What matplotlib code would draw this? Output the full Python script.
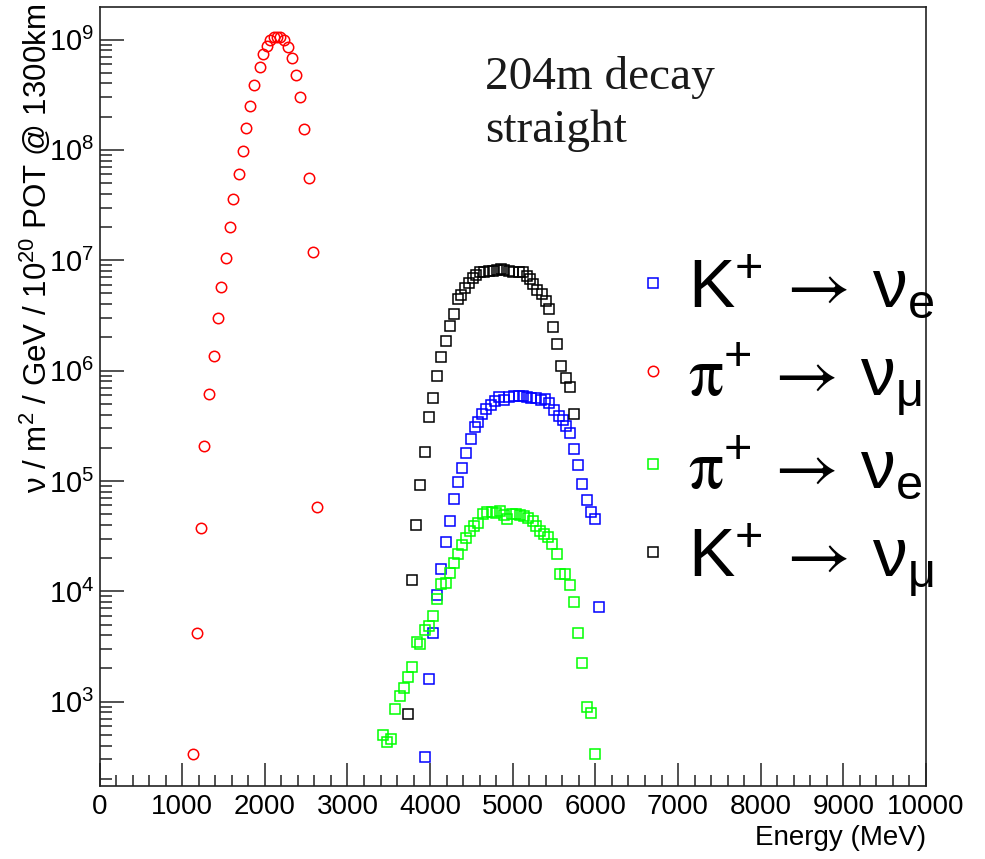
import matplotlib
matplotlib.use('Agg')
import matplotlib.pyplot as plt
from matplotlib.ticker import MultipleLocator, FixedLocator, LogFormatterSciNotation, NullFormatter

plt.rcParams['font.family'] = ['Liberation Sans', 'DejaVu Sans']
plt.rcParams['mathtext.fontset'] = 'custom'
plt.rcParams['mathtext.rm'] = 'Liberation Sans'
plt.rcParams['mathtext.it'] = 'Liberation Sans:italic'
plt.rcParams['mathtext.bf'] = 'Liberation Sans:bold'
plt.rcParams['mathtext.sf'] = 'STIXGeneral'
plt.rcParams['mathtext.cal'] = 'Liberation Serif'

# ---------------- data (energy in MeV, flux) ----------------
pi_numu_E = [1133, 1178, 1227, 1270, 1319, 1384, 1428, 1476, 1525, 1573, 1618, 1682,
             1731, 1776, 1824, 1869, 1937, 1982, 2027, 2067, 2107, 2148, 2188, 2236,
             2281, 2330, 2376, 2422, 2470, 2536, 2584, 2628]
pi_numu_flux = [337, 4190, 3.74e4, 2.06e5, 6.13e5, 1.35e6, 2.97e6, 5.69e6, 1.04e7, 2.01e7,
                3.59e7, 6.04e7, 9.77e7, 1.59e8, 2.51e8, 3.85e8, 5.67e8, 7.35e8, 8.79e8,
                9.96e8, 1.05e9, 1.06e9, 1.05e9, 1.0e9, 8.6e8, 6.84e8, 4.77e8, 3.03e8,
                1.56e8, 5.52e7, 1.18e7, 5.77e4]

k_numu_E = [3731, 3779, 3828, 3876, 3937, 3990, 4034, 4082, 4131, 4196, 4240, 4285, 4333,
            4378, 4418, 4467, 4515, 4552, 4604, 4652, 4713, 4761, 4815, 4855, 4895, 4955,
            5008, 5076, 5130, 5170, 5210, 5251, 5299, 5352, 5400, 5440, 5488, 5533, 5582,
            5646, 5694, 5736]
k_numu_flux = [767, 1.26e4, 3.98e4, 9.27e4, 1.83e5, 3.79e5, 5.63e5, 8.87e5, 1.32e6, 1.84e6,
               2.51e6, 3.25e6, 4.48e6, 4.84e6, 5.64e6, 6.18e6, 6.86e6, 7.35e6, 7.77e6, 7.77e6,
               7.98e6, 8.03e6, 8.20e6, 8.27e6, 8.20e6, 7.98e6, 7.77e6, 7.87e6, 7.77e6, 7.24e6,
               6.76e6, 6.05e6, 5.37e6, 4.91e6, 4.30e6, 3.59e6, 2.50e6, 1.73e6, 1.10e6, 8.61e5,
               7.16e5, 4.02e5]

k_nue_E = [3937, 3985, 4034, 4082, 4131, 4196, 4240, 4288, 4333, 4382, 4430, 4491, 4543,
           4584, 4633, 4681, 4733, 4788, 4839, 4899, 4955, 5018, 5081, 5121, 5170, 5218,
           5279, 5339, 5394, 5440, 5501, 5564, 5610, 5648, 5693, 5736, 5784, 5834, 5897,
           5945, 5990, 6039]
k_nue_flux = [317, 1590, 4190, 9250, 1.60e4, 2.78e4, 4.36e4, 6.90e4, 9.84e4, 1.30e5,
              1.78e5, 2.39e5, 3.08e5, 3.44e5, 4.05e5, 4.51e5, 4.92e5, 5.32e5, 5.82e5, 5.37e5,
              5.75e5, 5.87e5, 5.94e5, 5.87e5, 5.75e5, 5.70e5, 5.61e5, 5.37e5, 5.52e5, 5.10e5,
              4.44e5, 3.87e5, 3.53e5, 3.18e5, 2.72e5, 1.95e5, 1.39e5, 9.31e4, 6.71e4, 5.26e4,
              4.50e4, 7240]

pi_nue_E = [3433, 3481, 3521, 3573, 3634, 3682, 3736, 3784, 3836, 3876, 3937, 3985, 4034,
            4082, 4131, 4196, 4240, 4288, 4337, 4382, 4430, 4485, 4531, 4584, 4636, 4691,
            4745, 4794, 4842, 4891, 4936, 4988, 5042, 5091, 5142, 5188, 5239, 5279, 5327,
            5382, 5427, 5473, 5531, 5573, 5630, 5691, 5743, 5788, 5836, 5897, 5945, 5994]
pi_nue_flux = [498, 433, 455, 863, 1130, 1320, 1680, 2070, 3490, 3330, 4450, 4870, 6000,
               8510, 1.16e4, 1.18e4, 1.46e4, 1.80e4, 2.18e4, 2.62e4, 3.07e4, 3.52e4, 3.90e4,
               4.13e4, 5.01e4, 5.26e4, 5.22e4, 5.07e4, 5.34e4, 4.91e4, 4.56e4, 5.01e4, 5.05e4,
               4.94e4, 4.84e4, 4.61e4, 4.38e4, 3.90e4, 3.52e4, 3.30e4, 3.12e4, 2.68e4, 2.17e4,
               1.43e4, 1.43e4, 1.14e4, 7940, 4190, 2220, 899, 783, 335]

y_major_ticks = [1e3, 1e4, 1e5, 1e6, 1e7, 1e8, 1e9]

labels = [r'$\mathrm{K}^{+}\,\mathsf{\rightarrow}\,\mathrm{\nu}_{\mathrm{e}}$',
          r'$\mathsf{\pi}^{+}\,\mathsf{\rightarrow}\,\mathrm{\nu}_{\mathrm{\mu}}$',
          r'$\mathsf{\pi}^{+}\,\mathsf{\rightarrow}\,\mathrm{\nu}_{\mathrm{e}}$',
          r'$\mathrm{K}^{+}\,\mathsf{\rightarrow}\,\mathrm{\nu}_{\mathrm{\mu}}$']

# ---------------- figure ----------------
W, H = 985, 859
fig = plt.figure(figsize=(W / 100, H / 100), dpi=100)
ax = fig.add_axes([99.5 / W, 1 - 786 / H, 826.5 / W, (786 - 7.3) / H])

mkw = dict(linestyle='none', markerfacecolor='none', markeredgewidth=1.1)
h_blue, = ax.plot(k_nue_E, k_nue_flux, marker='s', markersize=7.0, markeredgecolor='#0000ff', **mkw)
h_green, = ax.plot(pi_nue_E, pi_nue_flux, marker='s', markersize=7.0, markeredgecolor='#00ff00', **mkw)
h_black, = ax.plot(k_numu_E, k_numu_flux, marker='s', markersize=7.0, markeredgecolor='black', **mkw)
h_red, = ax.plot(pi_numu_E, pi_numu_flux, marker='o', markersize=7.5, markeredgecolor='#ff0000', **mkw)

ax.set_yscale('log')
ax.set_xlim(0, 10000)
ax.set_ylim(172, 1.96e9)

ax.xaxis.set_major_locator(MultipleLocator(1000))
ax.xaxis.set_minor_locator(MultipleLocator(200))
minor_y = [m * d for d in [1e2] + y_major_ticks for m in range(2, 10)]
minor_y = [v for v in minor_y if 172 <= v <= 1.96e9]
ax.yaxis.set_major_locator(FixedLocator(y_major_ticks))
ax.yaxis.set_minor_locator(FixedLocator(minor_y))
ax.yaxis.set_major_formatter(LogFormatterSciNotation())
ax.yaxis.set_minor_formatter(NullFormatter())

ax.tick_params(axis='both', which='both', direction='in', top=False, right=False,
               color='#222222', width=1.1)
ax.tick_params(axis='x', which='major', length=16.5, labelsize=20, pad=6)
ax.tick_params(axis='x', which='minor', length=8)
ax.tick_params(axis='y', which='major', length=17.3, labelsize=21, pad=4)
ax.tick_params(axis='y', which='minor', length=8.6)
for s in ax.spines.values():
    s.set_linewidth(1.2)
    s.set_color('#222222')

ax.set_xlabel('Energy (MeV)', fontsize=20, loc='right')
ax.xaxis.set_label_coords(1.0, -0.0668)
ax.xaxis.label.set_va('center')
ax.set_ylabel(r'$\mathrm{\nu}$ / m$^{2}$ / GeV / 10$^{20}$ POT @ 1300km', fontsize=22.5, loc='top')
ax.yaxis.set_label_coords(-0.0775, 1.004)
ax.yaxis.label.set_va('center')

fig.text(485 / W, 1 - 141.7 / H, '204m decay\nstraight', fontsize=34, family='Liberation Serif',
         color='#1a1a1a', va='baseline', ha='left', linespacing=1.3)

leg = ax.legend([h_blue, h_red, h_green, h_black], labels, loc='center left',
                bbox_to_anchor=(642.3 / W, 1 - 426 / H), bbox_transform=fig.transFigure,
                frameon=False, fontsize=50, handlelength=0.3, handletextpad=0.36,
                labelspacing=0.27, borderpad=0, borderaxespad=0, numpoints=1)

fig.savefig('out.png', dpi=100)
